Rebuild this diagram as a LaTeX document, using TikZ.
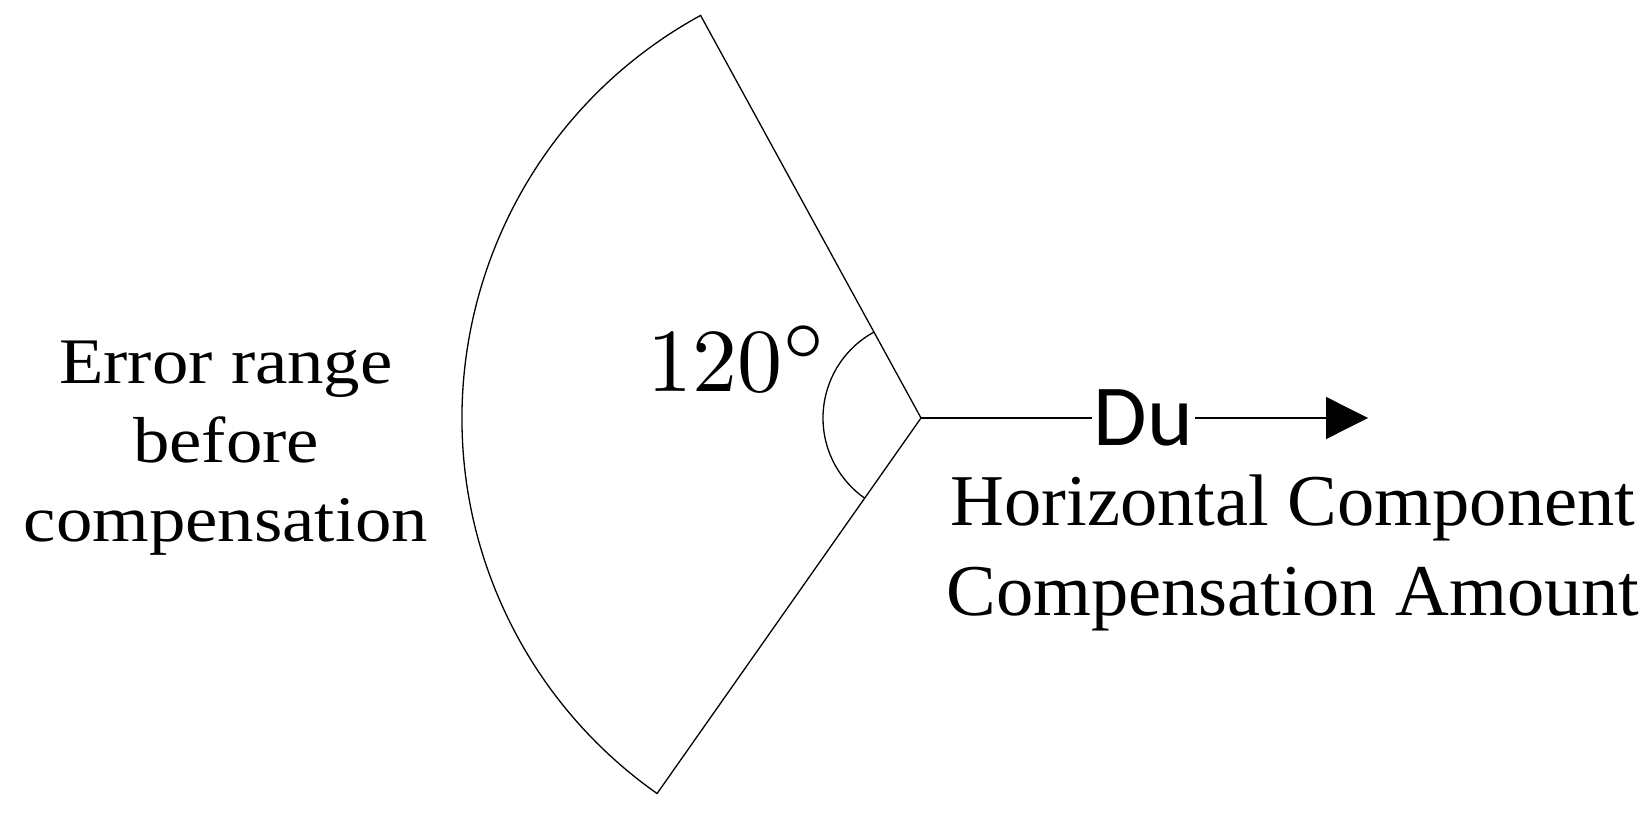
\documentclass[tikz,border=0pt]{standalone}
\usepackage{fontspec}
\newfontfamily\timesfont{Liberation Serif}
\newfontfamily\dufont{Carlito}
\usetikzlibrary{arrows.meta}
\begin{document}
\begin{tikzpicture}[x=1pt,y=1pt,line width=1.3pt,
        sidetext/.style={inner sep=0pt,font=\timesfont},
    ]
    \useasboundingbox (0,0) rectangle (1651,820);
    %% sector
    \coordinate (apex) at (921,402);
    \draw (apex) -- ++(118.7:459) arc[start angle=118.7,end angle=234.9,radius=459] -- cycle;
    %% angle mark
    \draw (apex) ++(118.7:98) arc[start angle=118.7,end angle=234.9,radius=98];
    \node[inner sep=0pt,anchor=base west] (angle) at (647,428.3)
        {\scalebox{9}{$120^{\scalebox{1.15}{$\scriptstyle\circ$}}$}};
    %% direction
    \coordinate (tip) at (1368,402);
    \node[inner sep=1pt,font=\dufont\fontsize{87}{87}\selectfont] (du) at (1143.5,402) {Du};
    \draw (apex) -- (du);
    \draw[-{Triangle[length=42pt,width=42pt]}] (du) -- (tip);
    %% labels (first baseline at 383 / 525 from the top)
    \node[sidetext,anchor=north] (before) at (226,492.3)
        {\fontsize{65}{79}\selectfont\scalebox{1.12}[1]{\begin{tabular}{@{}c@{}}Error range\\before\\compensation\end{tabular}}};
    \node[sidetext,anchor=north] (amount) at (1293,358)
        {\fontsize{73}{90}\selectfont\scalebox{1.02}[1]{\begin{tabular}{@{}c@{}}Horizontal Component\\Compensation Amount\end{tabular}}};
\end{tikzpicture}
\end{document}
